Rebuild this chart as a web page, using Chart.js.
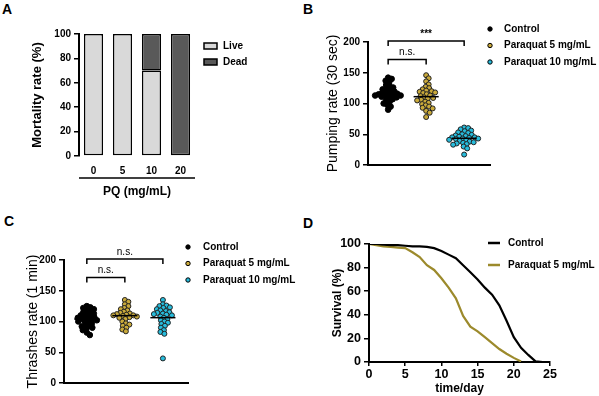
<!DOCTYPE html>
<html>
<head>
<meta charset="utf-8">
<script src="https://cdn.jsdelivr.net/npm/chart.js@4.4.0/dist/chart.umd.min.js"></script>
<style>
  body { margin: 0; background: #fff; width: 599px; height: 396px; position: relative; overflow: hidden; font-family: "Liberation Sans", Arial, sans-serif; }
  .panel { position: absolute; }
  .tag { position: absolute; font-weight: bold; font-size: 14px; line-height: 14px; }
</style>
</head>
<body>
<div class="tag" style="left:2px;top:2px">A</div>
<div class="tag" style="left:303px;top:2px">B</div>
<div class="tag" style="left:4px;top:214px">C</div>
<div class="tag" style="left:303px;top:216px">D</div>
<div class="panel" style="left:0;top:0"><canvas id="chartA" width="300" height="200"></canvas></div>
<div class="panel" style="left:300px;top:0"><canvas id="chartB" width="299" height="200"></canvas></div>
<div class="panel" style="left:0;top:200px"><canvas id="chartC" width="300" height="196"></canvas></div>
<div class="panel" style="left:300px;top:200px"><canvas id="chartD" width="299" height="196"></canvas></div>
<script>
// ---- Painel A: mortalidade por dose ----
const doses = ['0', '5', '10', '20'];
const liveRate = [100, 100, 70, 0];
const deadRate = [0, 0, 30, 100];

// ---- Grupos dos paineis B e C ----
const groupNames = ['Control', 'Paraquat 5 mg/mL', 'Paraquat 10 mg/mL'];

// ---- Painel B: pumping rate (30 sec) ----
const pumpControl = [142, 140, 137, 134, 130, 128, 126, 124, 123, 121, 120, 118, 117, 116, 115, 115, 114, 113, 113, 112, 111, 110, 109, 107, 105, 103, 100, 98, 95, 90];
const pumpPq5 = [146, 141, 136, 131, 127, 125, 123, 121, 120, 119, 118, 117, 115, 113, 112, 110, 109, 108, 106, 105, 103, 101, 99, 97, 95, 93, 92, 88, 85, 78];
const pumpPq10 = [61, 60, 58, 56, 55, 53, 52, 50, 49, 48, 47, 46, 45, 45, 44, 43, 43, 42, 41, 40, 39, 38, 37, 36, 35, 34, 33, 30, 27, 17];

// ---- Painel C: thrashes rate (1 min) ----
const thrashControl = [125, 123, 122, 120, 118, 116, 115, 113, 112, 110, 109, 108, 107, 106, 105, 104, 103, 102, 101, 100, 99, 97, 95, 93, 92, 90, 88, 86, 82, 78];
const thrashPq5 = [135, 132, 128, 125, 122, 120, 118, 116, 114, 113, 112, 111, 110, 110, 109, 108, 107, 106, 104, 100, 97, 95, 93, 90, 87, 84];
const thrashPq10 = [135, 128, 126, 125, 123, 122, 120, 118, 117, 115, 114, 113, 112, 111, 110, 108, 106, 104, 102, 100, 98, 96, 93, 90, 86, 83, 80, 40];

// ---- Painel D: sobrevivencia ----
const daysControl = [0, 1, 2, 3, 4, 5, 6, 7, 8, 9, 10, 11, 12, 13, 14, 15, 16, 17, 18, 19, 20, 21, 22, 23, 24];
const survControl = [100, 100, 99.5, 99, 99, 98.5, 98, 98, 97.5, 96.5, 94, 91, 88, 82, 76, 70, 63, 57, 48, 35, 21, 12, 6, 0.5, 0];
const daysPq5 = [0, 1, 2, 3, 4, 5, 6, 7, 8, 9, 10, 11, 12, 13, 14, 15, 16, 17, 18, 19, 20, 21];
const survPq5 = [100, 99, 98, 97.5, 97, 96.5, 93, 89, 82, 78, 71, 63, 54, 39, 30, 26, 21, 16, 11, 7, 3.5, 0.5];

// cores
const black = '#000';
const liveColor = '#d9d9d9';
const deadColor = '#595959';
const gold = '#c9a93a';
const cyan = '#27bcdc';
const olive = '#9c8a2c';

const bold = (size) => ({ family: 'Liberation Sans', size, weight: 'bold' });
const plain = (size) => ({ family: 'Liberation Sans', size });

// eixo Y padrao (estilo GraphPad)
function axisY(max, step, title, titleFont, tickFont, width) {
    return {
        min: 0, max,
        ticks: { stepSize: step, color: black, font: tickFont, padding: 3 },
        grid: { drawOnChartArea: false, color: black, lineWidth: 1.5, tickLength: 5 },
        border: { color: black, width: 2 },
        title: { display: true, text: title, color: black, font: titleFont, padding: { top: 4, bottom: 0 } },
        afterFit: s => { s.width = width; },
    };
}

// distribui os pontos em "enxame" para nao sobrepor (determinístico)
function swarm(values, center) {
    const pxX = 38, pxY = 0.615, diam = 3.7;
    const placed = [];
    const out = new Array(values.length);
    const order = values.map((v, i) => i).sort((a, b) => values[b] - values[a]);
    order.forEach(i => {
        const py = values[i] * pxY;
        let best = 0;
        for (let k = 0; k < 400; k++) {
            const cand = (k % 2 ? 1 : -1) * Math.ceil(k / 2) * 0.5;
            if (placed.every(p => Math.hypot(p.x - cand, p.y - py) >= diam)) { best = cand; break; }
        }
        placed.push({ x: best, y: py });
        out[i] = { x: center + best / pxX, y: values[i] };
    });
    return out;
}

// legenda desenhada à direita do gráfico
const panelLegend = {
    id: 'panelLegend',
    afterDraw(chart, args, opts) {
        const ctx = chart.ctx;
        ctx.save();
        chart.data.datasets.filter(d => d.label).forEach((d, i) => {
            const y = opts.y + i * opts.dy;
            ctx.lineWidth = 1.5;
            ctx.strokeStyle = black;
            if (opts.kind === 'box') {
                ctx.fillStyle = d.backgroundColor;
                ctx.fillRect(opts.x, y - 3, 13, 6);
                ctx.strokeRect(opts.x, y - 3, 13, 6);
            } else if (opts.kind === 'dot') {
                ctx.beginPath();
                ctx.arc(opts.x, y, 2.2, 0, Math.PI * 2);
                ctx.fillStyle = d.backgroundColor;
                ctx.fill();
                ctx.lineWidth = 1;
                ctx.stroke();
            } else {
                ctx.strokeStyle = d.borderColor;
                ctx.lineWidth = 2.5;
                ctx.beginPath();
                ctx.moveTo(opts.x, y);
                ctx.lineTo(opts.x + 12, y);
                ctx.stroke();
            }
            ctx.fillStyle = black;
            ctx.font = 'bold 10px "Liberation Sans"';
            ctx.textBaseline = 'middle';
            ctx.fillText(d.label, opts.x + opts.gap, y);
        });
        ctx.restore();
    }
};

// colchetes de significância + linha da média
const scatterExtras = {
    id: 'scatterExtras',
    afterDatasetsDraw(chart, args, opts) {
        const ctx = chart.ctx;
        const { x, y } = chart.scales;
        ctx.save();
        ctx.strokeStyle = black;
        // médias
        ctx.lineWidth = 1.5;
        chart.data.datasets.forEach(d => {
            const mean = d.values.reduce((a, b) => a + b, 0) / d.values.length;
            const py = y.getPixelForValue(mean);
            ctx.beginPath();
            ctx.moveTo(x.getPixelForValue(d.group - 0.33), py);
            ctx.lineTo(x.getPixelForValue(d.group + 0.33), py);
            ctx.stroke();
        });
        // colchetes
        opts.brackets.forEach(b => {
            const x1 = x.getPixelForValue(b.from), x2 = x.getPixelForValue(b.to);
            const yt = y.getPixelForValue(b.top), yb = y.getPixelForValue(b.top - 8);
            ctx.lineWidth = 1.5;
            ctx.beginPath();
            ctx.moveTo(x1, yb); ctx.lineTo(x1, yt); ctx.lineTo(x2, yt); ctx.lineTo(x2, yb);
            ctx.stroke();
            ctx.fillStyle = black;
            ctx.font = (b.bold ? 'bold ' : '') + '10px "Liberation Sans"';
            ctx.textAlign = 'center';
            ctx.textBaseline = 'bottom';
            ctx.fillText(b.label, (x1 + x2) / 2, yt - 2);
        });
        ctx.restore();
    }
};

// linha de agrupamento sob os rótulos do eixo X (painel A)
const groupLine = {
    id: 'groupLine',
    afterDraw(chart, args, opts) {
        const ctx = chart.ctx, area = chart.chartArea;
        ctx.save();
        ctx.strokeStyle = black;
        ctx.lineWidth = 1.5;
        ctx.beginPath();
        ctx.moveTo(area.left, opts.y);
        ctx.lineTo(area.right, opts.y);
        ctx.stroke();
        ctx.restore();
    }
};

// ____________________________________________________________________________

// Painel A
new Chart(document.getElementById('chartA'), {
    type: 'bar',
    data: {
        labels: doses,
        datasets: [
            { label: 'Live', data: liveRate, backgroundColor: liveColor, borderColor: black, borderWidth: 1.5, borderSkipped: false },
            { label: 'Dead', data: deadRate, backgroundColor: deadColor, borderColor: black, borderWidth: 1.5, borderSkipped: false },
        ],
    },
    options: {
        responsive: false,
        animation: false,
        layout: { padding: { left: 26, right: 105, top: 34, bottom: 0 } },
        datasets: { bar: { barPercentage: 0.66, categoryPercentage: 1 } },
        plugins: {
            legend: { display: false },
            tooltip: { enabled: false },
            panelLegend: { kind: 'box', x: 204, y: 46, dy: 16, gap: 19 },
            groupLine: { y: 178 },
        },
        scales: {
            x: {
                stacked: true,
                grid: { display: false, drawTicks: false },
                border: { display: false },
                ticks: { color: black, font: bold(10), padding: 9 },
                title: { display: true, text: 'PQ (mg/mL)', color: black, font: bold(12), padding: { top: 0, bottom: 1 } },
                afterFit: s => { s.height = 44; },
            },
            y: { stacked: true, ...axisY(100, 20, 'Mortality rate (%)', bold(13), bold(10), 53) },
        },
    },
    plugins: [panelLegend, groupLine],
});

// Painel B
new Chart(document.getElementById('chartB'), {
    type: 'scatter',
    data: {
        datasets: [
            { label: groupNames[0], group: 0, values: pumpControl, data: swarm(pumpControl, 0), backgroundColor: black, borderColor: black, pointRadius: 2.8, borderWidth: 1 },
            { label: groupNames[1], group: 1, values: pumpPq5, data: swarm(pumpPq5, 1), backgroundColor: gold, borderColor: '#222', pointRadius: 2.5, borderWidth: 1 },
            { label: groupNames[2], group: 2, values: pumpPq10, data: swarm(pumpPq10, 2), backgroundColor: cyan, borderColor: '#222', pointRadius: 2.5, borderWidth: 1 },
        ],
    },
    options: {
        responsive: false,
        animation: false,
        layout: { padding: { left: 21, right: 109, top: 42, bottom: 0 } },
        plugins: {
            legend: { display: false },
            tooltip: { enabled: false },
            panelLegend: { kind: 'dot', x: 190, y: 29, dy: 16.5, gap: 14 },
            scatterExtras: { brackets: [
                { from: 0, to: 2, top: 201.5, label: '***', bold: true },
                { from: 0, to: 1, top: 171.5, label: 'n.s.', bold: false },
            ] },
        },
        scales: {
            x: {
                type: 'linear', min: -0.53, max: 2.68,
                grid: { display: false, drawTicks: false },
                ticks: { display: false },
                border: { color: black, width: 2 },
                afterFit: s => { s.height = 35; },
            },
            y: axisY(200, 50, 'Pumping rate (30 sec)', plain(14), bold(10), 47),
        },
    },
    plugins: [panelLegend, scatterExtras],
});

// Painel C
new Chart(document.getElementById('chartC'), {
    type: 'scatter',
    data: {
        datasets: [
            { label: groupNames[0], group: 0, values: thrashControl, data: swarm(thrashControl, 0), backgroundColor: black, borderColor: black, pointRadius: 2.8, borderWidth: 1 },
            { label: groupNames[1], group: 1, values: thrashPq5, data: swarm(thrashPq5, 1), backgroundColor: gold, borderColor: '#222', pointRadius: 2.5, borderWidth: 1 },
            { label: groupNames[2], group: 2, values: thrashPq10, data: swarm(thrashPq10, 2), backgroundColor: cyan, borderColor: '#222', pointRadius: 2.5, borderWidth: 1 },
        ],
    },
    options: {
        responsive: false,
        animation: false,
        layout: { padding: { left: 21, right: 112, top: 60, bottom: 0 } },
        plugins: {
            legend: { display: false },
            tooltip: { enabled: false },
            panelLegend: { kind: 'dot', x: 188, y: 47, dy: 16.5, gap: 15 },
            scatterExtras: { brackets: [
                { from: 0, to: 2, top: 201.5, label: 'n.s.', bold: false },
                { from: 0, to: 1, top: 171.5, label: 'n.s.', bold: false },
            ] },
        },
        scales: {
            x: {
                type: 'linear', min: -0.6, max: 2.66,
                grid: { display: false, drawTicks: false },
                ticks: { display: false },
                border: { color: black, width: 2 },
                afterFit: s => { s.height = 13; },
            },
            y: axisY(200, 50, 'Thrashes rate (1 min)', plain(14), bold(10), 43),
        },
    },
    plugins: [panelLegend, scatterExtras],
});

// Painel D
new Chart(document.getElementById('chartD'), {
    type: 'line',
    data: {
        datasets: [
            { label: 'Control', data: daysControl.map((d, i) => ({ x: d, y: survControl[i] })), borderColor: black, borderWidth: 2.2, pointRadius: 0, tension: 0 },
            { label: 'Paraquat 5 mg/mL', data: daysPq5.map((d, i) => ({ x: d, y: survPq5[i] })), borderColor: olive, borderWidth: 2.2, pointRadius: 0, tension: 0 },
        ],
    },
    options: {
        responsive: false,
        animation: false,
        layout: { padding: { left: 26, right: 49, top: 44, bottom: 0 } },
        plugins: {
            legend: { display: false },
            tooltip: { enabled: false },
            panelLegend: { kind: 'line', x: 188, y: 43, dy: 22, gap: 20 },
        },
        scales: {
            x: {
                type: 'linear', min: 0, max: 25,
                ticks: { stepSize: 5, color: black, font: bold(12.5), padding: 1 },
                grid: { drawOnChartArea: false, color: black, lineWidth: 1.5, tickLength: 4 },
                border: { color: black, width: 2 },
                title: { display: true, text: 'time/day', color: black, font: bold(12), padding: { top: 0, bottom: 0 } },
                afterFit: s => { s.height = 34; },
            },
            y: axisY(100, 20, 'Survival (%)', bold(12), bold(12.5), 43),
        },
    },
    plugins: [panelLegend],
});
</script>
</body>
</html>
